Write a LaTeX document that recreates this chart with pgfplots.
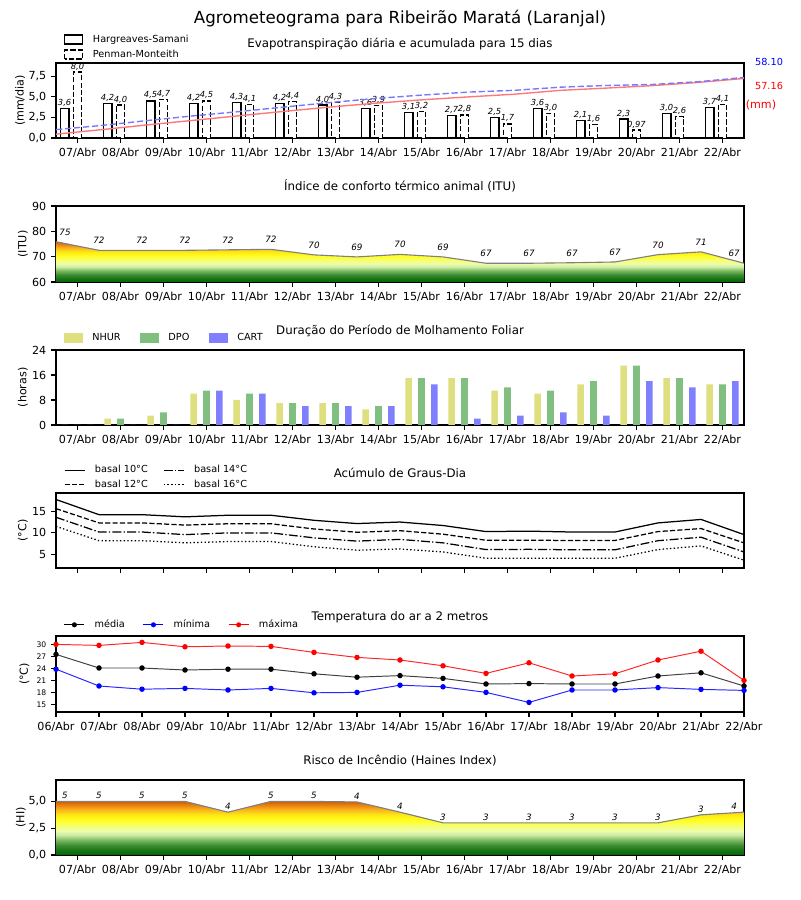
\documentclass[border=0pt]{standalone}
\usepackage{fontspec}
\setmainfont{DejaVu Sans}
\usepackage{pgfplots}
\pgfplotsset{compat=1.18}

\definecolor{nhur}{RGB}{223,223,128}
\definecolor{dpo}{RGB}{128,191,128}
\definecolor{cart}{RGB}{128,128,255}
\definecolor{hsred}{RGB}{255,120,120}
\definecolor{pmblue}{RGB}{120,120,255}
\definecolor{h0}{RGB}{0,100,0}
\definecolor{h1}{RGB}{20,115,20}
\definecolor{h2}{RGB}{60,140,50}
\definecolor{h3}{RGB}{125,185,95}
\definecolor{h4}{RGB}{205,238,170}
\definecolor{h5}{RGB}{238,252,170}
\definecolor{h6}{RGB}{246,255,110}
\definecolor{h7}{RGB}{255,255,30}
\definecolor{h8}{RGB}{255,232,20}
\definecolor{h9}{RGB}{248,180,30}
\definecolor{h10}{RGB}{235,130,15}
\definecolor{h11}{RGB}{205,95,5}
\pgfdeclareverticalshading{heat}{100bp}{color(0bp)=(h0); color(25bp)=(h0); color(29bp)=(h1); color(34bp)=(h2); color(39bp)=(h3); color(44bp)=(h4); color(47.5bp)=(h5); color(52.5bp)=(h6); color(57.5bp)=(h7); color(62.5bp)=(h8); color(67.5bp)=(h9); color(71.5bp)=(h10); color(75bp)=(h11); color(100bp)=(h11)}

\pgfplotsset{
  painel/.style={scale only axis, width=495.36pt, anchor=south west,
    axis line style={line width=0.75pt},
    every tick/.style={black, line width=0.75pt},
    tick align=outside, major tick length=3.5pt,
    xtick pos=left, ytick pos=left,
    tick label style={font=\fontsize{8}{9}\selectfont},
    title style={font=\fontsize{8.5}{10}\selectfont, at={(0.5,1)}, anchor=base, yshift=5.4pt},
    ylabel style={font=\fontsize{8}{9}\selectfont, anchor=center},
    legend cell align=left},
  diasA/.style={xmin=-0.5, xmax=15.5, xtick={0,1,2,3,4,5,6,7,8,9,10,11,12,13,14,15},
    xticklabels={07/Abr,08/Abr,09/Abr,10/Abr,11/Abr,12/Abr,13/Abr,14/Abr,15/Abr,16/Abr,17/Abr,18/Abr,19/Abr,20/Abr,21/Abr,22/Abr}},
  diasB/.style={xmin=0, xmax=16, xtick={0.5,1.5,2.5,3.5,4.5,5.5,6.5,7.5,8.5,9.5,10.5,11.5,12.5,13.5,14.5,15.5},
    xticklabels={07/Abr,08/Abr,09/Abr,10/Abr,11/Abr,12/Abr,13/Abr,14/Abr,15/Abr,16/Abr,17/Abr,18/Abr,19/Abr,20/Abr,21/Abr,22/Abr}},
  leg/.style={legend style={at={(axis description cs:0,1)}, anchor=south west, draw=none, fill=none,
    font=\fontsize{7}{8}\selectfont, inner sep=0pt,
    /tikz/every odd column/.append style={column sep=5pt}}},
  barlab/.style={nodes near coords, point meta=explicit symbolic,
    every node near coord/.append style={font=\fontsize{6}{7}\selectfont\itshape, inner sep=0.5pt, anchor=south, yshift=0.5pt, black}},
}

\begin{document}
\begin{tikzpicture}
\path[use as bounding box] (0pt,0pt) rectangle (576pt,648pt);
\node[font=\fontsize{12}{14}\selectfont, anchor=base] at (288pt,631.1pt) {Agrometeograma para Ribeirão Maratá (Laranjal)};

% ---------- Panel 1 ----------
\begin{axis}[painel, diasA, at={(40.32pt,548.64pt)}, height=54pt,
  ymin=0, ymax=9.1, ytick={0,2.5,5,7.5}, yticklabels={{0,0},{2,5},{5,0},{7,5}},
  title={Evapotranspiração diária e acumulada para 15 dias},
  ylabel={(mm/dia)}, ylabel style={at={(axis description cs:-0.0523,0.5)}},
  leg, legend style={xshift=5.5pt, yshift=0.5pt, row sep=0pt}, legend columns=1]
\addlegendimage{legend image code/.code={\draw[black, line width=0.9pt, fill=white] (0pt,-3.2pt) rectangle (13pt,3.2pt);}}
\addlegendentry{Hargreaves-Samani}
\addlegendimage{legend image code/.code={\draw[black, line width=0.9pt, fill=white, dash pattern=on 3.7pt off 1.6pt] (0pt,-3.2pt) rectangle (13pt,3.2pt);}}
\addlegendentry{Penman-Monteith}
\addplot[ybar, bar width=0.2, bar shift=-0.3, fill=white, draw=black, line width=0.9pt, barlab,
  every node near coord/.append style={xshift=-9.29pt}, forget plot] coordinates {
(0,3.6)[3{,}6] (1,4.2)[4{,}2] (2,4.5)[4{,}5] (3,4.2)[4{,}2] (4,4.3)[4{,}3] (5,4.2)[4{,}2] (6,4.0)[4{,}0] (7,3.6)[3{,}6]
(8,3.1)[3{,}1] (9,2.7)[2{,}7] (10,2.5)[2{,}5] (11,3.6)[3{,}6] (12,2.1)[2{,}1] (13,2.3)[2{,}3] (14,3.0)[3{,}0] (15,3.7)[3{,}7]};
\addplot[ybar, bar width=0.2, bar shift=0, fill=white, draw=black, line width=0.9pt, dash pattern=on 3.7pt off 1.6pt, barlab, forget plot] coordinates {
(0,8.0)[8{,}0] (1,4.0)[4{,}0] (2,4.7)[4{,}7] (3,4.5)[4{,}5] (4,4.1)[4{,}1] (5,4.4)[4{,}4] (6,4.3)[4{,}3] (7,3.9)[3{,}9]
(8,3.2)[3{,}2] (9,2.8)[2{,}8] (10,1.7)[1{,}7] (11,3.0)[3{,}0] (12,1.6)[1{,}6] (13,0.97)[0{,}97] (14,2.6)[2{,}6] (15,4.1)[4{,}1]};
\end{axis}
\begin{axis}[scale only axis, width=495.36pt, height=54pt, anchor=south west, at={(40.32pt,548.64pt)},
  hide axis, xmin=0, xmax=15, ymin=0, ymax=72]
\addplot[hsred, line width=1pt] coordinates {
(0,3.70) (1,8.02) (2,12.64) (3,16.96) (4,21.38) (5,25.70) (6,29.81) (7,33.51) (8,36.70) (9,39.48) (10,42.05) (11,45.75) (12,47.90) (13,50.27) (14,53.35) (15,57.16)};
\addplot[pmblue, line width=1pt, dash pattern=on 4.5pt off 2pt] coordinates {
(0,8.03) (1,12.05) (2,16.77) (3,21.28) (4,25.40) (5,29.82) (6,34.14) (7,38.05) (8,41.26) (9,44.08) (10,45.78) (11,48.79) (12,50.40) (13,51.37) (14,53.99) (15,58.10)};
\end{axis}
\node[font=\fontsize{7}{8}\selectfont, text=blue] at (553.7pt,603.4pt) {58.10};
\node[font=\fontsize{7}{8}\selectfont, text=red] at (553.7pt,586.1pt) {57.16};
\node[font=\fontsize{8}{9}\selectfont, text=red] at (547.9pt,572.4pt) {(mm)};

% ---------- Panel 2 ----------
\begin{axis}[painel, diasB, at={(40.32pt,444.96pt)}, height=54.72pt,
  ymin=60, ymax=90, ytick={60,70,80,90}, yticklabels={60,70,80,90},
  title={Índice de conforto térmico animal (ITU)},
  ylabel={(ITU)}, ylabel style={at={(axis description cs:-0.048,0.5)}}]
\addplot[draw=none, shade, shading=heat] coordinates {
(0,60) (0,75.9) (1,72.5) (2,72.5) (3,72.5) (4,72.7) (5,72.9) (6,70.7) (7,69.9) (8,70.9) (9,69.9) (10,67.4) (11,67.4) (12,67.6) (13,67.9) (14,70.8) (15,71.9) (16,67.4) (16,60)};
\addplot[gray, line width=0.8pt] coordinates {
(0,75.9) (1,72.5) (2,72.5) (3,72.5) (4,72.7) (5,72.9) (6,70.7) (7,69.9) (8,70.9) (9,69.9) (10,67.4) (11,67.4) (12,67.6) (13,67.9) (14,70.8) (15,71.9) (16,67.4)};
\addplot[draw=none, nodes near coords, point meta=explicit symbolic,
  every node near coord/.append style={font=\fontsize{6.3}{7}\selectfont\itshape, anchor=center, yshift=7pt, inner sep=0pt, black}] coordinates {
(0.21,75.9)[75] (1,72.5)[72] (2,72.5)[72] (3,72.5)[72] (4,72.7)[72] (5,72.9)[72] (6,70.7)[70] (7,69.9)[69] (8,70.9)[70] (9,69.9)[69] (10,67.4)[67] (11,67.4)[67] (12,67.6)[67] (13,67.9)[67] (14,70.8)[70] (15,71.9)[71] (15.77,67.4)[67]};
\end{axis}

% ---------- Panel 3 ----------
\begin{axis}[painel, diasA, at={(40.32pt,342pt)}, height=54pt,
  ymin=0, ymax=24, ytick={0,8,16,24}, yticklabels={0,8,16,24},
  title={Duração do Período de Molhamento Foliar},
  ylabel={(horas)}, ylabel style={at={(axis description cs:-0.048,0.5)}},
  leg, legend style={xshift=5.5pt, yshift=3pt, /tikz/every even column/.append style={column sep=12pt}}, legend columns=3]
\addlegendimage{legend image code/.code={\fill[nhur] (0pt,-3.2pt) rectangle (13pt,3.2pt);}}
\addlegendentry{NHUR}
\addlegendimage{legend image code/.code={\fill[dpo] (0pt,-3.2pt) rectangle (13pt,3.2pt);}}
\addlegendentry{DPO}
\addlegendimage{legend image code/.code={\fill[cart] (0pt,-3.2pt) rectangle (13pt,3.2pt);}}
\addlegendentry{CART}
\addplot[ybar, bar width=0.155, bar shift=-0.3, fill=nhur, draw=none, forget plot] coordinates {
(0,0) (1,2) (2,3) (3,10) (4,8) (5,7) (6,7) (7,5) (8,15) (9,15) (10,11) (11,10) (12,13) (13,19) (14,15) (15,13)};
\addplot[ybar, bar width=0.155, bar shift=0, fill=dpo, draw=none, forget plot] coordinates {
(0,0) (1,2) (2,4) (3,11) (4,10) (5,7) (6,7) (7,6) (8,15) (9,15) (10,12) (11,11) (12,14) (13,19) (14,15) (15,13)};
\addplot[ybar, bar width=0.155, bar shift=0.3, fill=cart, draw=none, forget plot] coordinates {
(0,0) (1,0) (2,0) (3,11) (4,10) (5,6) (6,6) (7,6) (8,13) (9,2) (10,3) (11,4) (12,3) (13,14) (14,12) (15,14)};
\end{axis}

% ---------- Panel 4 ----------
\begin{axis}[painel, diasB, xticklabels={}, at={(40.32pt,239.04pt)}, height=54pt,
  ymin=1.9, ymax=19.2, ytick={5,10,15}, yticklabels={5,10,15},
  title={Acúmulo de Graus-Dia},
  ylabel={(°C)}, ylabel style={at={(axis description cs:-0.048,0.5)}},
  leg, legend style={xshift=5.5pt, yshift=0.6pt, row sep=-0.7pt, /tikz/every even column/.append style={column sep=9pt}}, legend columns=2]
\addlegendimage{legend image code/.code={\draw[black, line width=0.9pt] (0pt,0pt) -- (14.4pt,0pt);}}
\addlegendentry{basal 10°C}
\addlegendimage{legend image code/.code={\draw[black, line width=0.9pt, dash pattern=on 6.4pt off 1.6pt on 1pt off 1.6pt] (0pt,0pt) -- (14.4pt,0pt);}}
\addlegendentry{basal 14°C}
\addlegendimage{legend image code/.code={\draw[black, line width=0.9pt, dash pattern=on 3.7pt off 1.6pt] (0pt,0pt) -- (14.4pt,0pt);}}
\addlegendentry{basal 12°C}
\addlegendimage{legend image code/.code={\draw[black, line width=0.9pt, dash pattern=on 1pt off 1.65pt] (0pt,0pt) -- (14.4pt,0pt);}}
\addlegendentry{basal 16°C}
\addplot[black, line width=0.9pt, forget plot] coordinates {
(0,17.7) (1,14.2) (2,14.2) (3,13.7) (4,14.07) (5,14.07) (6,12.9) (7,12.15) (8,12.5) (9,11.7) (10,10.3) (11,10.4) (12,10.2) (13,10.2) (14,12.3) (15,13.1) (16,9.6)};
\addplot[black, line width=0.9pt, dash pattern=on 3.7pt off 1.6pt, forget plot] coordinates {
(0,15.6) (1,12.3) (2,12.3) (3,11.8) (4,12.1) (5,12.1) (6,10.9) (7,10.15) (8,10.5) (9,9.7) (10,8.3) (11,8.3) (12,8.25) (13,8.25) (14,10.3) (15,11.0) (16,7.7)};
\addplot[black, line width=0.9pt, dash pattern=on 6.4pt off 1.6pt on 1pt off 1.6pt, forget plot] coordinates {
(0,13.6) (1,10.2) (2,10.2) (3,9.6) (4,10.0) (5,10.0) (6,8.85) (7,8.1) (8,8.5) (9,7.7) (10,6.15) (11,6.2) (12,6.1) (13,6.1) (14,8.2) (15,9.0) (16,5.6)};
\addplot[black, line width=0.9pt, dash pattern=on 1pt off 1.65pt, forget plot] coordinates {
(0,11.5) (1,8.2) (2,8.2) (3,7.7) (4,8.0) (5,8.0) (6,6.8) (7,6.0) (8,6.3) (9,5.6) (10,4.15) (11,4.15) (12,4.15) (13,4.15) (14,6.15) (15,7.0) (16,3.7)};
\end{axis}

% ---------- Panel 5 ----------
\begin{axis}[painel, at={(40.32pt,135.36pt)}, height=54.72pt,
  xmin=0, xmax=16, xtick={0,1,2,3,4,5,6,7,8,9,10,11,12,13,14,15,16},
  xticklabels={06/Abr,07/Abr,08/Abr,09/Abr,10/Abr,11/Abr,12/Abr,13/Abr,14/Abr,15/Abr,16/Abr,17/Abr,18/Abr,19/Abr,20/Abr,21/Abr,22/Abr},
  ymin=13.1, ymax=32.1, ytick={15,18,21,24,27,30}, yticklabels={15,18,21,24,27,30},
  yticklabel style={font=\fontsize{5.5}{6}\selectfont},
  title={Temperatura do ar a 2 metros},
  ylabel={(°C)}, ylabel style={at={(axis description cs:-0.046,0.5)}},
  leg, legend style={xshift=5.5pt, yshift=2.3pt, /tikz/every even column/.append style={column sep=11pt}}, legend columns=3]
\addlegendimage{legend image code/.code={\draw[black, line width=0.7pt] (0pt,0pt) -- (14.4pt,0pt); \fill[black] (7.2pt,0pt) circle (1.6pt);}}
\addlegendentry{média}
\addlegendimage{legend image code/.code={\draw[blue, line width=0.7pt] (0pt,0pt) -- (14.4pt,0pt); \fill[blue] (7.2pt,0pt) circle (1.6pt);}}
\addlegendentry{mínima}
\addlegendimage{legend image code/.code={\draw[red, line width=0.7pt] (0pt,0pt) -- (14.4pt,0pt); \fill[red] (7.2pt,0pt) circle (1.6pt);}}
\addlegendentry{máxima}
\addplot[black!75, line width=0.7pt, mark=*, mark size=1.6pt, mark options={fill=black, draw=black}, forget plot] coordinates {
(0,27.5) (1,24.1) (2,24.1) (3,23.6) (4,23.8) (5,23.8) (6,22.65) (7,21.8) (8,22.2) (9,21.5) (10,20.1) (11,20.2) (12,20.1) (13,20.1) (14,22.1) (15,22.9) (16,19.6)};
\addplot[blue!85, line width=0.7pt, mark=*, mark size=1.6pt, mark options={fill=blue, draw=blue}, forget plot] coordinates {
(0,23.8) (1,19.6) (2,18.8) (3,19.0) (4,18.6) (5,19.0) (6,17.9) (7,18.0) (8,19.8) (9,19.4) (10,18.0) (11,15.5) (12,18.6) (13,18.6) (14,19.2) (15,18.75) (16,18.5)};
\addplot[red!85, line width=0.7pt, mark=*, mark size=1.6pt, mark options={fill=red, draw=red}, forget plot] coordinates {
(0,30.0) (1,29.75) (2,30.5) (3,29.4) (4,29.6) (5,29.5) (6,28.0) (7,26.75) (8,26.1) (9,24.65) (10,22.75) (11,25.4) (12,22.1) (13,22.65) (14,26.1) (15,28.3) (16,21.0)};
\end{axis}

% ---------- Panel 6 ----------
\begin{axis}[painel, diasB, at={(40.32pt,32.4pt)}, height=54pt,
  ymin=0, ymax=7, ytick={0,2.5,5}, yticklabels={{0,0},{2,5},{5,0}},
  title={Risco de Incêndio (Haines Index)},
  ylabel={(HI)}, ylabel style={at={(axis description cs:-0.051,0.5)}}]
\addplot[draw=none, shade, shading=heat] coordinates {
(0,0) (0,5) (1,5) (2,5) (3,5) (4,4) (5,5) (6,5) (7,4.95) (8,4) (9,3) (10,3) (11,3) (12,3) (13,3) (14,3) (15,3.75) (16,4) (16,0)};
\addplot[gray, line width=0.8pt] coordinates {
(0,5) (1,5) (2,5) (3,5) (4,4) (5,5) (6,5) (7,4.95) (8,4) (9,3) (10,3) (11,3) (12,3) (13,3) (14,3) (15,3.75) (16,4)};
\addplot[draw=none, nodes near coords, point meta=explicit symbolic,
  every node near coord/.append style={font=\fontsize{6.3}{7}\selectfont\itshape, anchor=center, yshift=4pt, inner sep=0pt, black}] coordinates {
(0.21,5)[5] (1,5)[5] (2,5)[5] (3,5)[5] (4,4)[4] (5,5)[5] (6,5)[5] (7,4.95)[4] (8,4)[4] (9,3)[3] (10,3)[3] (11,3)[3] (12,3)[3] (13,3)[3] (14,3)[3] (15,3.75)[3] (15.77,4)[4]};
\end{axis}
\end{tikzpicture}
\end{document}
